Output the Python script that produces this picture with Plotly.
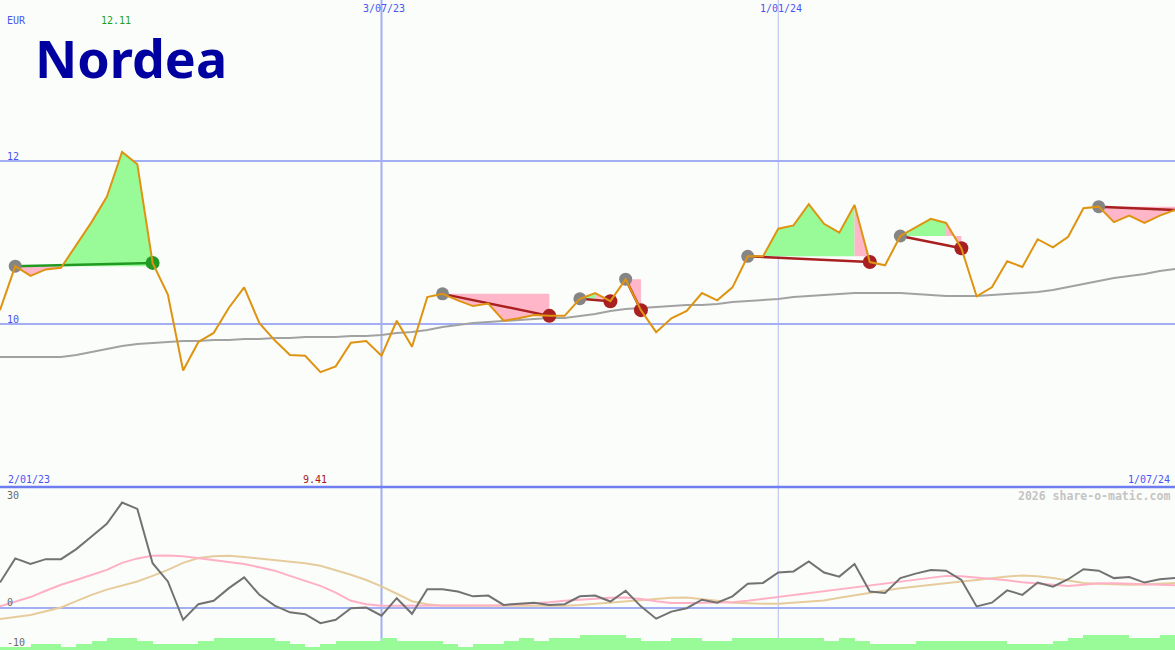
import pandas as pd
import plotly.graph_objects as go

# ---------------- data ----------------
weeks = pd.date_range("2023-01-09", periods=78, freq="7D")

price = [10.17, 10.71, 10.59, 10.67, 10.69, 10.97, 11.25, 11.56, 12.11, 11.96,
         10.75, 10.36, 9.43, 9.78, 9.89, 10.20, 10.45, 10.01, 9.80, 9.62,
         9.61, 9.41, 9.48, 9.77, 9.79, 9.61, 10.04, 9.72, 10.33, 10.37,
         10.29, 10.22, 10.25, 10.04, 10.07, 10.11, 10.10, 10.10, 10.31, 10.38,
         10.28, 10.55, 10.17, 9.90, 10.07, 10.16, 10.38, 10.29, 10.45, 10.83,
         10.83, 11.17, 11.21, 11.47, 11.23, 11.12, 11.46, 10.76, 10.72, 11.08,
         11.18, 11.29, 11.24, 10.93, 10.34, 10.45, 10.77, 10.70, 11.04, 10.94,
         11.07, 11.42, 11.44, 11.25, 11.33, 11.24, 11.33, 11.40]

ma_long = [9.595, 9.595, 9.595, 9.595, 9.595, 9.62, 9.656, 9.693, 9.73, 9.755,
           9.767, 9.779, 9.791, 9.791, 9.804, 9.804, 9.816, 9.816, 9.828, 9.828,
           9.84, 9.84, 9.84, 9.853, 9.853, 9.865, 9.89, 9.902, 9.926, 9.963,
           9.988, 10.012, 10.025, 10.037, 10.049, 10.061, 10.074, 10.074, 10.098, 10.123,
           10.16, 10.184, 10.196, 10.209, 10.221, 10.233, 10.233, 10.245, 10.27, 10.282,
           10.294, 10.307, 10.331, 10.344, 10.356, 10.368, 10.38, 10.38, 10.38, 10.38,
           10.368, 10.356, 10.344, 10.344, 10.344, 10.356, 10.368, 10.38, 10.393, 10.417,
           10.454, 10.491, 10.528, 10.564, 10.589, 10.613, 10.65, 10.675]

osc = [6.7, 13.2, 11.7, 13.0, 13.0, 15.7, 19.1, 22.5, 28.2, 26.5,
       11.9, 7.0, -3.3, 0.9, 1.8, 5.2, 8.1, 3.4, 0.5, -1.3,
       -1.8, -4.2, -3.3, -0.2, 0.0, -2.2, 2.5, -1.7, 4.9, 4.9,
       4.3, 3.0, 3.2, 0.7, 1.0, 1.3, 0.7, 0.9, 3.0, 3.2,
       1.6, 4.5, 0.3, -3.0, -1.1, -0.2, 2.1, 1.3, 3.0, 6.4,
       6.6, 9.4, 9.7, 12.4, 9.4, 8.3, 11.7, 4.3, 3.9, 7.9,
       9.1, 10.1, 9.9, 7.4, 0.3, 1.3, 4.6, 3.4, 6.7, 5.6,
       7.6, 10.3, 9.9, 7.9, 8.2, 6.7, 7.6, 7.9]

osc_pink = [0.3, 1.5, 2.8, 4.5, 6.1, 7.4, 8.8, 10.1, 12.0, 13.2,
            13.9, 14.0, 13.8, 13.3, 12.8, 12.4, 11.7, 10.8, 9.9, 8.5,
            7.2, 5.8, 4.0, 1.8, 0.9, 0.5, 0.5, 0.5, 0.5, 0.5,
            0.5, 0.5, 0.5, 0.6, 0.9, 1.1, 1.4, 1.8, 2.1, 2.5,
            2.6, 2.7, 2.3, 1.7, 1.2, 1.2, 1.2, 1.2, 1.4, 1.8,
            2.3, 2.8, 3.3, 3.8, 4.3, 4.8, 5.3, 5.8, 6.4, 6.8,
            7.3, 8.0, 8.5, 8.4, 8.1, 7.7, 7.3, 6.8, 6.4, 6.1,
            5.8, 6.1, 6.5, 6.5, 6.4, 6.2, 6.0, 6.0]

osc_tan = [-3.1, -2.5, -2.0, -1.0, 0.0, 1.7, 3.4, 4.8, 5.8, 7.0,
           8.5, 10.1, 12.0, 13.3, 13.8, 13.9, 13.6, 13.2, 12.8, 12.4,
           11.9, 11.2, 10.1, 8.8, 7.4, 5.7, 3.7, 1.7, 0.9, 0.5,
           0.5, 0.5, 0.5, 0.5, 0.5, 0.4, 0.3, 0.5, 0.7, 1.0,
           1.3, 1.7, 1.9, 2.3, 2.6, 2.7, 2.3, 1.8, 1.3, 1.1,
           1.0, 1.0, 1.3, 1.5, 1.9, 2.6, 3.3, 4.0, 4.6, 5.2,
           5.7, 6.2, 6.6, 7.0, 7.4, 7.9, 8.3, 8.6, 8.4, 7.9,
           7.3, 6.6, 6.4, 6.2, 6.1, 6.2, 6.4, 6.6]

volume = [1, 1, 2, 2, 1, 2, 3, 4, 4, 3,
          2, 2, 2, 3, 4, 4, 4, 4, 3, 2,
          1, 2, 3, 3, 3, 4, 3, 3, 3, 2,
          1, 2, 2, 3, 4, 3, 4, 4, 5, 5,
          5, 4, 3, 3, 4, 4, 3, 3, 4, 4,
          4, 4, 4, 4, 3, 4, 3, 2, 2, 2,
          3, 3, 3, 3, 3, 3, 2, 2, 2, 3,
          4, 5, 5, 5, 4, 4, 5]

trade_entry = [1, 29, 38, 41, 49, 59, 72]
trade_exit = [10, 36, 40, 42, 57, 63, None]

grid_dates = ["2023-07-03", "2024-01-01"]
grid_labels = ["3/07/23", "1/01/24"]
grid_widths = [2, 1]
grid_colors = ["#a4aef2", "#b4bbee"]
price_ticks = [10, 12]
price_tick_shift = [5, 5]
osc_ticks = [30, 0, -10]
osc_tick_shift = [0, 5, 2]
start_label = "2/01/23"
end_label = "1/07/24"
currency = "EUR"

# ---------------- styles ----------------
W, H = 1175, 650
MAIN_BOTTOM = 487
BG = "#fbfdfb"
BLUE_TXT = "#4a55f0"
GRID = "#a4aef2"
FILL_GREEN = "#98fb98"
FILL_PINK = "#ffb6c8"
MONO = "DejaVu Sans Mono"

fig = go.Figure()

# trade fills (between price and entry level, coloured per segment)
for e, x in zip(trade_entry, trade_exit):
    end = x if x is not None else len(price) - 1
    lvl = price[e]
    gx, gy, px_, py_ = [], [], [], []
    for i in range(e, end):
        xs = [weeks[i], weeks[i + 1], weeks[i + 1], weeks[i], weeks[i], None]
        ys = [price[i], price[i + 1], lvl, lvl, price[i], None]
        if price[i + 1] >= lvl:
            gx += xs; gy += ys
        else:
            px_ += xs; py_ += ys
    if gx:
        fig.add_trace(go.Scatter(x=gx, y=gy, fill="toself", fillcolor=FILL_GREEN,
                                 mode="none", hoverinfo="skip", showlegend=False))
    if px_:
        fig.add_trace(go.Scatter(x=px_, y=py_, fill="toself", fillcolor=FILL_PINK,
                                 mode="none", hoverinfo="skip", showlegend=False))

# long moving average
fig.add_trace(go.Scatter(x=weeks, y=ma_long, mode="lines",
                         line=dict(color="#a2a2a2", width=2), showlegend=False))

# trade lines and dots
for e, x in zip(trade_entry, trade_exit):
    end = x if x is not None else len(price) - 1
    win = price[end] >= price[e]
    col = "#229a22" if win else "#a82020"
    fig.add_trace(go.Scatter(x=[weeks[e], weeks[end]], y=[price[e], price[end]],
                             mode="lines", line=dict(color=col, width=2.5),
                             showlegend=False))
    fig.add_trace(go.Scatter(x=[weeks[e]], y=[price[e]], mode="markers",
                             marker=dict(color="#858585", size=13), showlegend=False))
    if x is not None:
        fig.add_trace(go.Scatter(x=[weeks[x]], y=[price[x]], mode="markers",
                                 marker=dict(color=col, size=14), showlegend=False))

# price line
fig.add_trace(go.Scatter(x=weeks, y=price, mode="lines",
                         line=dict(color="#de9410", width=2), showlegend=False))

# lower panel
fig.add_trace(go.Scatter(x=weeks, y=osc_tan, mode="lines", xaxis="x2", yaxis="y2",
                         line=dict(color="#e6cc9c", width=2), showlegend=False))
fig.add_trace(go.Scatter(x=weeks, y=osc_pink, mode="lines", xaxis="x2", yaxis="y2",
                         line=dict(color="#ffb0c4", width=2), showlegend=False))
fig.add_trace(go.Scatter(x=weeks, y=osc, mode="lines", xaxis="x2", yaxis="y2",
                         line=dict(color="#727272", width=2), showlegend=False))
bar_x = [weeks[i] + pd.Timedelta(days=3.5) for i in range(len(volume))]
fig.add_trace(go.Bar(x=bar_x, y=volume, xaxis="x2", yaxis="y3",
                     width=7 * 24 * 3600 * 1000, marker=dict(color=FILL_GREEN, line=dict(width=0)),
                     showlegend=False))

# ---------------- layout ----------------
main_dom = [1 - MAIN_BOTTOM / H, 1]
low_dom = [0, 1 - (MAIN_BOTTOM + 1) / H]
p_per_unit = 81.5
main_range = [10 - (MAIN_BOTTOM - 324) / p_per_unit, 10 + 324 / p_per_unit]
o_per_unit = 3.72
zero_px = 607.5
low_range = [-(H - zero_px) / o_per_unit, (zero_px - (MAIN_BOTTOM + 1)) / o_per_unit]

xr = [weeks[0], weeks[-1]]
fig.update_layout(
    width=W, height=H, margin=dict(l=0, r=0, t=0, b=0),
    paper_bgcolor=BG, plot_bgcolor=BG, bargap=0, showlegend=False,
    xaxis=dict(range=xr, domain=[0, 1], anchor="y", showgrid=False, zeroline=False,
               showticklabels=False, showline=False),
    xaxis2=dict(range=xr, domain=[0, 1], anchor="y2", showgrid=False, zeroline=False,
                showticklabels=False, showline=False),
    yaxis=dict(domain=main_dom, range=main_range, tickvals=price_ticks, showgrid=True,
               gridcolor=GRID, gridwidth=2, zeroline=False, showticklabels=False),
    yaxis2=dict(domain=low_dom, range=low_range, tickvals=[0], showgrid=True,
                gridcolor=GRID, gridwidth=2, zeroline=False, showticklabels=False),
    yaxis3=dict(overlaying="y2", anchor="x2", range=[0, (H - MAIN_BOTTOM - 1) / 3.0],
                visible=False),
)

shapes = []
for d, wdt, c in zip(grid_dates, grid_widths, grid_colors):
    shapes.append(dict(type="line", xref="x", yref="paper", x0=d, x1=d, y0=0, y1=1,
                       line=dict(color=c, width=wdt), layer="below"))
shapes.append(dict(type="line", xref="paper", yref="paper", x0=0, x1=1,
                   y0=1 - MAIN_BOTTOM / H, y1=1 - MAIN_BOTTOM / H,
                   line=dict(color="#6e7ef0", width=2.5), layer="below"))
fig.update_layout(shapes=shapes)


def px_ann(text, x, y, color, size=10, xanchor="left", bold=False, family=MONO):
    return dict(text=f"<b>{text}</b>" if bold else text, xref="paper", yref="paper",
                x=x / W, y=1 - y / H, xanchor=xanchor, yanchor="middle",
                showarrow=False, font=dict(family=family, size=size, color=color))


anns = []
anns.append(px_ann(currency, 5, 21, BLUE_TXT))
imax = price.index(max(price))
imin = price.index(min(price))
anns.append(dict(text=f"{max(price):.2f}", xref="x", yref="paper", x=weeks[imax],
                 y=1 - 21 / H, xshift=-6, xanchor="center", yanchor="middle", showarrow=False,
                 font=dict(family=MONO, size=10, color="#22a022")))
anns.append(dict(text=f"{min(price):.2f}", xref="x", yref="paper", x=weeks[imin],
                 y=1 - 479 / H, xshift=-5, xanchor="center", yanchor="middle", showarrow=False,
                 font=dict(family=MONO, size=10, color="#a81818")))
for d, lab in zip(grid_dates, grid_labels):
    anns.append(dict(text=lab, xref="x", yref="paper", x=d, y=1 - 9 / H, xshift=3,
                     xanchor="center", yanchor="middle", showarrow=False,
                     font=dict(family=MONO, size=10, color=BLUE_TXT)))
for t, s in zip(price_ticks, price_tick_shift):
    anns.append(dict(text=str(t), xref="paper", yref="y", x=5 / W, y=t, yshift=s,
                     xanchor="left", yanchor="middle", showarrow=False,
                     font=dict(family=MONO, size=10, color=BLUE_TXT)))
for t, s in zip(osc_ticks, osc_tick_shift):
    anns.append(dict(text=str(t), xref="paper", yref="y2", x=5 / W, y=t, yshift=s,
                     xanchor="left", yanchor="middle", showarrow=False,
                     font=dict(family=MONO, size=10, color="#6a6a6a")))
anns.append(px_ann(start_label, 6, 479, BLUE_TXT))
anns.append(px_ann(end_label, 1172, 479, BLUE_TXT, xanchor="right"))
anns.append(px_ann("2026 share-o-matic.com", 1172, 496, "#c4c4c4", size=11.5,
                   xanchor="right", bold=True))
anns.append(px_ann("Nordea", 33, 58, "#0000a0", size=52, bold=True, family="Noto Sans"))
fig.update_layout(annotations=anns)

fig.write_html("out.html", config={"displayModeBar": False},
               post_script="document.body.style.margin='0';document.body.style.padding='0';"
                           "document.body.style.overflow='hidden';")
